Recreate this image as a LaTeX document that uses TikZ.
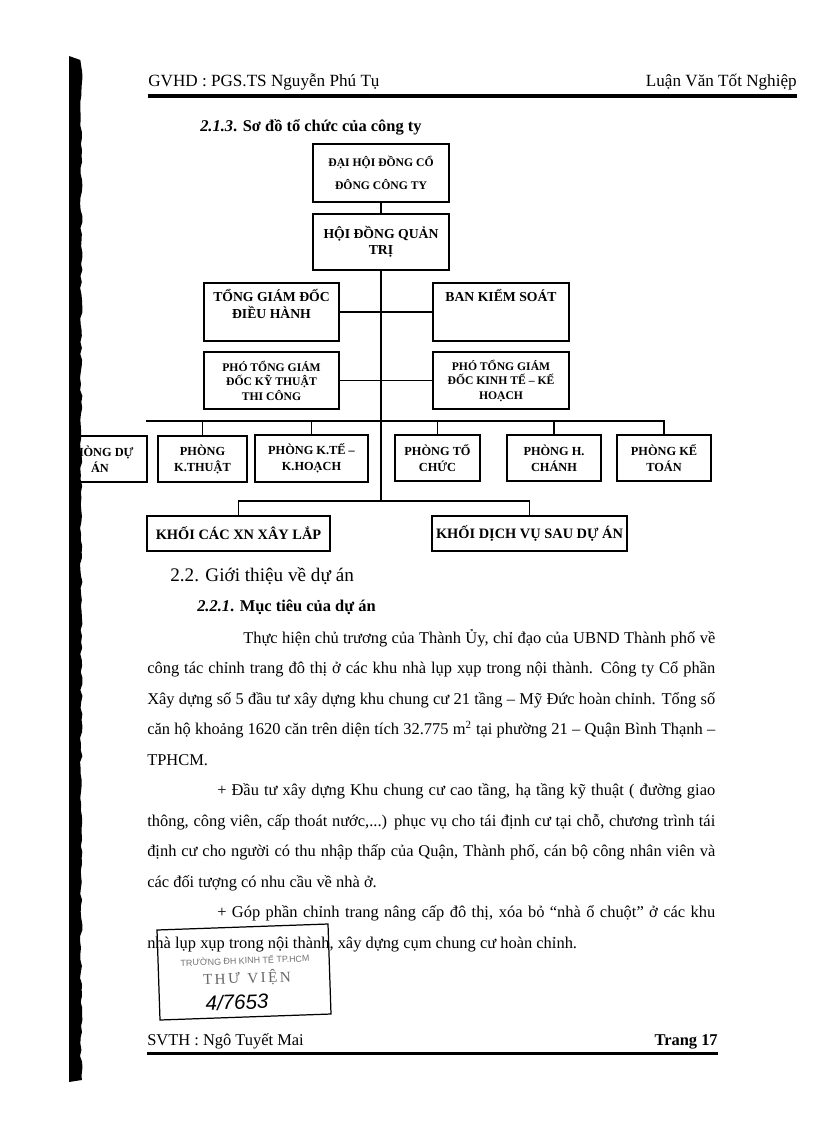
\documentclass[tikz,border=0pt]{standalone}
\usepackage{fontspec}
\setmainfont{Liberation Serif}
\newfontfamily\stampfont{Liberation Sans}
\newlength\pxu
\setlength\pxu{0.7297pt}

\begin{document}
\begin{tikzpicture}[
  x=\pxu, y=-\pxu,
  orgbox/.style={draw, line width=1pt, align=center, inner sep=0pt, fill=white},
  headfont/.style={font=\fontsize{8.5}{16.8}\selectfont\bfseries},
  rolefont/.style={font=\fontsize{10}{11.8}\selectfont\bfseries},
  deputyfont/.style={font=\fontsize{8.5}{10.6}\selectfont\bfseries},
  deptfont/.style={font=\fontsize{9}{11.8}\selectfont\bfseries},
  blockfont/.style={font=\fontsize{10.5}{12}\selectfont\bfseries},
  link/.style={line width=1pt},
  pagerule/.style={line width=2.2pt},
  bodyline/.style={anchor=base west, inner sep=0pt, font=\fontsize{12}{14}\selectfont},
  stamptext/.style={rotate=2, inner sep=0pt}
]

\useasboundingbox (0,0) rectangle (816,1123);
\fill[white] (0,0) rectangle (816,1123);

\node[anchor=base west, inner sep=0pt, font=\fontsize{12.5}{14}\selectfont] (gvhd) at (148,86) {GVHD : PGS.TS Nguyễn Phú Tụ};
\node[anchor=base east, inner sep=0pt, font=\fontsize{12.5}{14}\selectfont] (lvtn) at (797,86) {Luận Văn Tốt Nghiệp};
\draw[pagerule] (148,96) -- (797,96);

\node[anchor=base west, inner sep=0pt, font=\fontsize{12}{14}\selectfont\bfseries] (sec213) at (200,131) {\textit{2.1.3}. Sơ đồ tổ chức của công ty};

\node[orgbox, headfont, minimum width=136\pxu, minimum height=58\pxu] (dhdcd) at (381,173) {ĐẠI HỘI ĐỒNG CỔ\\ĐÔNG CÔNG TY};
\node[orgbox, rolefont, minimum width=136\pxu, minimum height=56\pxu] (hdqt) at (381,242) {HỘI ĐỒNG QUẢN\\TRỊ};
\node[orgbox, rolefont, minimum width=135\pxu, minimum height=58\pxu] (tgd) at (271.5,312) {TỔNG GIÁM ĐỐC\\ĐIỀU HÀNH\\\mbox{}};
\node[orgbox, rolefont, minimum width=136\pxu, minimum height=58\pxu] (bks) at (501,312) {BAN KIỂM SOÁT\\\mbox{}\\\mbox{}};
\node[orgbox, deputyfont, minimum width=135\pxu, minimum height=57\pxu] (pgdkt) at (271.5,380.5) {PHÓ TỔNG GIÁM\\ĐỐC KỸ THUẬT\\THI CÔNG};
\node[orgbox, deputyfont, minimum width=136\pxu, minimum height=57\pxu] (pgdkh) at (501,380.5) {PHÓ TỔNG GIÁM\\ĐỐC KINH TẾ – KẾ\\HOẠCH};

\node[orgbox, deptfont, minimum width=94\pxu, minimum height=46\pxu] (pda) at (100,459) {PHÒNG DỰ\\ÁN};
\node[orgbox, deptfont, minimum width=89\pxu, minimum height=46\pxu] (pkt) at (202.5,459) {PHÒNG\\K.THUẬT};
\node[orgbox, deptfont, minimum width=113\pxu, minimum height=47\pxu] (pkh) at (311.5,458.5) {PHÒNG K.TẾ –\\K.HOẠCH};
\node[orgbox, deptfont, minimum width=85\pxu, minimum height=46\pxu] (ptc) at (437.5,458) {PHÒNG TỔ\\CHỨC};
\node[orgbox, deptfont, minimum width=94\pxu, minimum height=46\pxu] (phc) at (554,458) {PHÒNG H.\\CHÁNH};
\node[orgbox, deptfont, minimum width=94\pxu, minimum height=46\pxu] (pkto) at (664,458) {PHÒNG KẾ\\TOÁN};

\node[orgbox, blockfont, minimum width=183\pxu, minimum height=35\pxu] (kxl) at (238.5,533.5) {KHỐI CÁC XN XÂY LẮP};
\node[orgbox, blockfont, minimum width=195\pxu, minimum height=35\pxu] (kdv) at (529.5,533.5) {KHỐI DỊCH VỤ SAU DỰ ÁN};

\coordinate (busL) at (146,421);
\coordinate (spine) at (381,501);

\draw[link] (dhdcd) -- (hdqt);
\draw[link] (hdqt) -- (spine);
\draw[link] (tgd) -- (bks);
\draw[link] (pgdkt) -- (pgdkh);
\draw[link] (busL) -| (pkto.north);
\draw[link] (pkt.north) -- (pkt.north |- busL);
\draw[link] (pkh.north) -- (pkh.north |- busL);
\draw[link] (ptc.north) -- (ptc.north |- busL);
\draw[link] (phc.north) -- (phc.north |- busL);
\draw[link] (kxl.north) |- (spine) -| (kdv.north);

\node[anchor=base west, inner sep=0pt, font=\fontsize{14}{16}\selectfont] (sec22) at (170,581) {2.2. Giới thiệu về dự án};
\node[anchor=base west, inner sep=0pt, font=\fontsize{12}{14}\selectfont\bfseries] (sec221) at (197,611) {\textit{2.2.1}. Mục tiêu của dự án};

\node[bodyline] (l1) at (243,643) {\makebox[472\pxu][s]{Thực hiện chủ trương của Thành Ủy, chỉ đạo của UBND Thành phố về}};
\node[bodyline] (l2) at (147,673.5) {\makebox[568\pxu][s]{công tác chỉnh trang đô thị ở các khu nhà lụp xụp trong nội thành. Công ty Cổ phần}};
\node[bodyline] (l3) at (147,704) {\makebox[568\pxu][s]{Xây dựng số 5 đầu tư xây dựng khu chung cư 21 tầng – Mỹ Đức hoàn chỉnh. Tổng số}};
\node[bodyline] (l4) at (147,734.5) {\makebox[568\pxu][s]{căn hộ khoảng 1620 căn trên diện tích 32.775 m\textsuperscript{2} tại phường 21 – Quận Bình Thạnh –}};
\node[bodyline] (l5) at (147,765) {TPHCM.};
\node[bodyline] (l6) at (217,795.5) {\makebox[498\pxu][s]{+ Đầu tư xây dựng Khu chung cư cao tầng, hạ tầng kỹ thuật ( đường giao}};
\node[bodyline] (l7) at (147,826) {\makebox[568\pxu][s]{thông, công viên, cấp thoát nước,...) phục vụ cho tái định cư tại chỗ, chương trình tái}};
\node[bodyline] (l8) at (147,856.5) {\makebox[568\pxu][s]{định cư cho người có thu nhập thấp của Quận, Thành phố, cán bộ công nhân viên và}};
\node[bodyline] (l9) at (147,887) {các đối tượng có nhu cầu về nhà ở.};
\node[bodyline] (l10) at (217,917.5) {\makebox[498\pxu][s]{+ Góp phần chỉnh trang nâng cấp đô thị, xóa bỏ “nhà ổ chuột” ở các khu}};
\node[bodyline] (l11) at (147,948) {nhà lụp xụp trong nội thành, xây dựng cụm chung cư hoàn chỉnh.};

\draw[line width=0.9pt] (157,930) -- (328,924) -- (331,1014) -- (160,1020) -- cycle;
\node[stamptext, text=black!55, font=\stampfont\fontsize{6.5}{8}\selectfont] (school) at (245,960) {TRƯỜNG ĐH KINH TẾ TP.HCM};
\node[stamptext, text=black!60, font=\fontsize{11}{12}\selectfont] (library) at (247,978) {T\,H\,Ư\ \ V\,I\,Ệ\,N};
\node[stamptext, font=\stampfont\itshape\fontsize{15}{18}\selectfont] (callno) at (237,1002) {4/7653};

\node[anchor=base west, inner sep=0pt, font=\fontsize{12}{14}\selectfont] (svth) at (147,1045) {SVTH : Ngô Tuyết Mai};
\node[anchor=base east, inner sep=0pt, font=\fontsize{12}{14}\selectfont\bfseries] (page) at (718,1045) {Trang 17};
\draw[pagerule] (147,1053) -- (718,1053);

\fill[white] (0,0) rectangle (69,1123);
\pgfmathsetseed{7}
\fill[black] (69,56) \foreach \yy in {60,66,...,1080} { -- ({80+2.5*rnd},\yy)} -- (69,1082) -- cycle;

\end{tikzpicture}
\end{document}
